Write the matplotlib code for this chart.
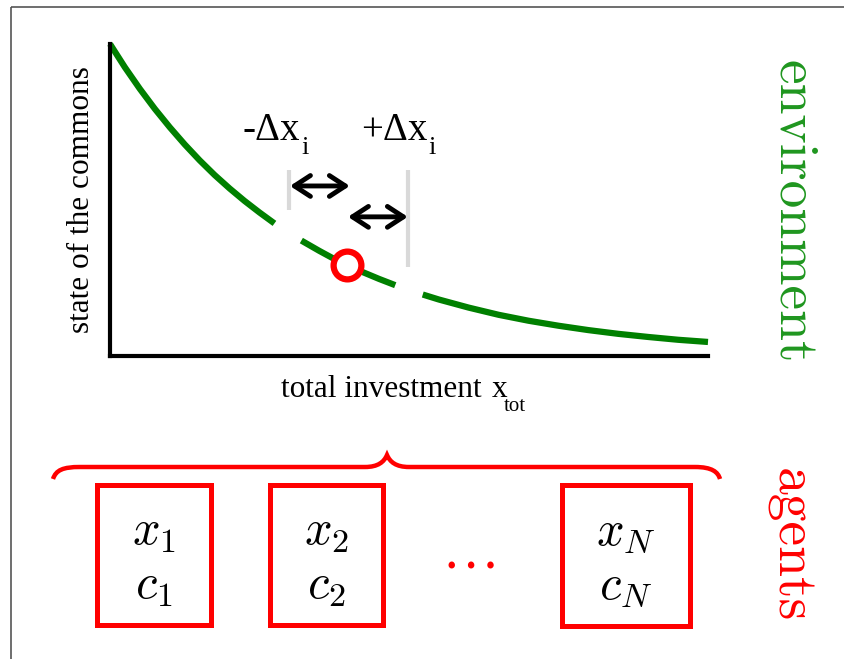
import numpy as np
import matplotlib
matplotlib.use("Agg")
import matplotlib.pyplot as plt
from matplotlib.patches import Rectangle, PathPatch
from matplotlib.path import Path

# ==============================
# Data
# ==============================
# state of the commons vs total investment (decaying curve)
INVEST = [0.0, 0.25, 0.5, 0.75, 1.0, 1.25, 1.5, 1.75, 2.0, 2.25, 2.5, 2.75,
          3.2, 3.5, 3.75, 4.0, 4.25, 4.5, 4.77,
          5.23, 5.5, 6.0, 6.5, 7.0, 7.5, 8.0, 8.5, 9.0, 9.5, 10.0]
STATE = [1.000, 0.925, 0.856, 0.792, 0.733, 0.678, 0.627, 0.580, 0.537, 0.497,
         0.460, 0.425,
         0.370, 0.337, 0.311, 0.288, 0.267, 0.247, 0.227,
         0.197, 0.181, 0.155, 0.132, 0.113, 0.097, 0.083, 0.071, 0.061, 0.052,
         0.045]
GAPS = [(2.75, 3.2), (4.77, 5.23)]        # breaks in the curve
CURRENT = (3.96, 0.292)                    # current x_tot
MARKS_X = [2.99, 4.98]                     # x_tot - dx, x_tot + dx
MARKS_TOP = [0.596, 0.596]
MARKS_BOTTOM = [0.468, 0.285]
ARROWS = [(3.01, 4.01, 0.545), (3.98, 4.98, 0.446)]

AGENT_LABELS = [(r"$x_1$", r"$c_1$"), (r"$x_2$", r"$c_2$"), (r"$x_N$", r"$c_N$")]

GREEN = "#008000"
RED = "#ff0000"
SERIF = "Liberation Serif"

W, H = 844, 659
fig = plt.figure(figsize=(W / 100, H / 100), dpi=100)
fig.patch.set_facecolor("white")

# overlay in pixel coordinates for the annotations
ov = fig.add_axes([0, 0, 1, 1])
ov.set_xlim(0, W)
ov.set_ylim(H, 0)
ov.axis("off")

# page frame (only top/left visible)
ov.add_patch(Rectangle((11, 7), 900, 700, fill=False, edgecolor="#555555", lw=1.2))

# ==============================
# Curve axes
# ==============================
x0, x1, ytop, ybot = 110, 708, 44, 356
ax = fig.add_axes([x0 / W, (H - ybot) / H, (x1 - x0) / W, (ybot - ytop) / H])
ax.set_facecolor("none")
ax.set_xlim(0, 10)
ax.set_ylim(0, 1)
for s in ["top", "right"]:
    ax.spines[s].set_visible(False)
for s in ["left", "bottom"]:
    ax.spines[s].set_linewidth(3)
    ax.spines[s].set_color("black")
ax.set_xticks([])
ax.set_yticks([])

xs = np.array(INVEST)
ys = np.array(STATE)
edges = [xs.min()] + [g for gap in GAPS for g in gap] + [xs.max()]
for a, b in zip(edges[0::2], edges[1::2]):
    m = (xs >= a) & (xs <= b)
    ax.plot(xs[m], ys[m], color=GREEN, lw=4.5, solid_capstyle="butt",
            solid_joinstyle="round", clip_on=False)

for xm, yt, yb in zip(MARKS_X, MARKS_TOP, MARKS_BOTTOM):
    ax.plot([xm, xm], [yb, yt], color="#d9d9d9", lw=3, solid_capstyle="butt")

for xa, xb, ya in ARROWS:
    ax.annotate("", xy=(xb, ya), xytext=(xa, ya),
                arrowprops=dict(arrowstyle="<->,head_length=1.15,head_width=0.75",
                                lw=3.5, color="black", shrinkA=0, shrinkB=0))

ax.plot(*CURRENT, "o", ms=20, mfc="white", mec=RED, mew=4.5, zorder=5)

# axis labels
ov.text(82, 200, "state of the commons", rotation=90, ha="center", va="center",
        family=SERIF, fontsize=22.5)
ov.text(281, 397, "total investment", ha="left", va="baseline", family=SERIF, fontsize=22.5)
ov.text(492, 397, "x", ha="left", va="baseline", family=SERIF, fontsize=22.5)
ov.text(504, 411, "tot", ha="left", va="baseline", family=SERIF, fontsize=15)

# +/- dx labels
ov.text(242, 140, "-\u0394x", ha="left", va="baseline", family=SERIF, fontsize=28)
ov.text(301, 154, "i", ha="left", va="baseline", family=SERIF, fontsize=19)
ov.text(361, 140, "+\u0394x", ha="left", va="baseline", family=SERIF, fontsize=28)
ov.text(428, 154, "i", ha="left", va="baseline", family=SERIF, fontsize=19)

ov.text(793, 212, "environment", rotation=-90, ha="center", va="center",
        family="cmr10", fontsize=40, color="#1f961f")
ov.text(790, 545, "agents", rotation=-90, ha="center", va="center",
        family="cmr10", fontsize=40, color=RED)

# ==============================
# Agents: brace and boxes
# ==============================
verts = [(53, 479), (56, 470), (63, 467), (80, 467),
         (365, 467),
         (378, 467), (384, 462), (387, 455),
         (390, 462), (396, 467), (409, 467),
         (695, 467),
         (712, 467), (718, 472), (720, 479)]
codes = [Path.MOVETO, Path.CURVE4, Path.CURVE4, Path.CURVE4,
         Path.LINETO,
         Path.CURVE4, Path.CURVE4, Path.CURVE4,
         Path.CURVE4, Path.CURVE4, Path.CURVE4,
         Path.LINETO,
         Path.CURVE4, Path.CURVE4, Path.CURVE4]
ov.add_patch(PathPatch(Path(verts, codes), fill=False, edgecolor=RED, lw=3.2))

boxes = [(97, 485, 114, 140), (270, 485, 113, 140), (562, 485, 128, 141)]
for (bx, by, bw, bh), (lx, lc) in zip(boxes, AGENT_LABELS):
    ov.add_patch(Rectangle((bx, by), bw, bh, fill=False, edgecolor=RED, lw=3.6))
    cx = bx + bw / 2
    ov.text(cx, 545, lx, ha="center", va="baseline", fontsize=35, math_fontfamily="cm")
    ov.text(cx, 599, lc, ha="center", va="baseline", fontsize=35, math_fontfamily="cm")

ov.text(468, 567, r"$\ldots$", ha="center", va="baseline", fontsize=42,
        color=RED, math_fontfamily="cm")

fig.savefig("out.png", dpi=100, facecolor="white")
